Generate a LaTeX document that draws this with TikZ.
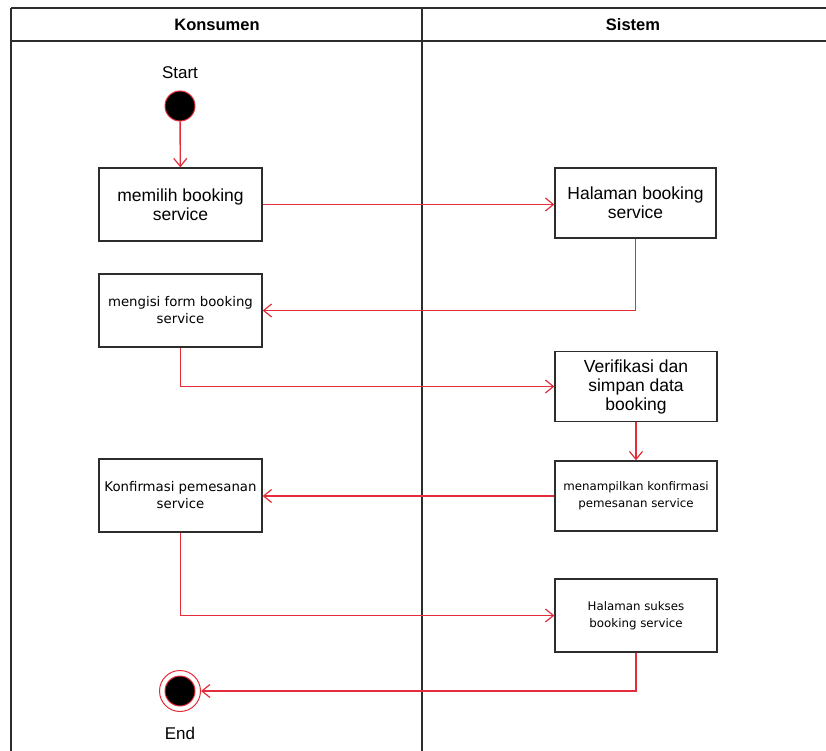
\documentclass[tikz,border=0pt]{standalone}
\usepackage{fontspec}
\setmainfont{Liberation Sans}
\newfontfamily\smallfont{DejaVu Sans}
\usetikzlibrary{arrows.meta}
\definecolor{flowred}{RGB}{228,45,58}
\definecolor{lanegray}{RGB}{45,45,45}
\begin{document}
\begin{tikzpicture}[x=1pt,y=-1pt,
  lane/.style={draw=lanegray,line width=1.8pt},
  act/.style={draw=lanegray,line width=1.3pt,fill=white,align=center,inner sep=0pt,
     minimum width=162pt,minimum height=72pt},
  bigtxt/.style={font=\fontsize{17.5}{19}\selectfont},
  midtxt/.style={font=\smallfont\fontsize{13.3}{17}\selectfont},
  smalltxt/.style={font=\smallfont\fontsize{11.8}{17}\selectfont},
  flow/.style={draw=flowred,line width=1.4pt,-{Straight Barb[length=8pt,width=13pt,line width=1.2pt]}},
  lbl/.style={font=\fontsize{17}{19}\selectfont,inner sep=0pt}]
\useasboundingbox (0,0) rectangle (826,751);
\fill[white] (0,0) rectangle (826,751);
% swimlanes
\coordinate (tl) at (11,8);
\coordinate (tr) at (826,8);
\coordinate (hl) at (11,41);
\coordinate (hr) at (826,41);
\coordinate (bl) at (11,751);
\coordinate (dt) at (422,8);
\coordinate (db) at (422,751);
\draw[lane] (tl) -- (tr);
\draw[lane] (hl) -- (hr);
\draw[lane] (tl) -- (bl);
\draw[lane] (dt) -- (db);
\node[font=\bfseries\fontsize{16.5}{18}\selectfont] (h1) at (217,25) {Konsumen};
\node[font=\bfseries\fontsize{16.5}{18}\selectfont] (h2) at (633,25) {Sistem};
% start / end
\node[lbl] (startlbl) at (180,73) {Start};
\node[circle,fill=black,draw=flowred,line width=1pt,minimum size=30pt,inner sep=0pt] (start) at (180,106) {};
\node[circle,draw=flowred,line width=1pt,minimum size=41pt,inner sep=0pt] (endo) at (180,691) {};
\node[circle,fill=black,draw=flowred,line width=1pt,minimum size=30pt,inner sep=0pt] (endi) at (180,691) {};
\node[lbl] (endlbl) at (180,733) {End};
% activities
\node[act,bigtxt,minimum width=163pt,minimum height=73pt] (a1) at (180.5,204.5) {memilih booking\\service};
\node[act,bigtxt,minimum width=161pt,minimum height=70pt] (b1) at (635.5,203) {Halaman booking\\service};
\node[act,midtxt,minimum width=163pt,minimum height=73pt] (a2) at (180.5,310.5) {mengisi form booking\\service};
\node[act,bigtxt,minimum width=162pt,minimum height=70pt] (b2) at (636,386.5) {Verifikasi dan\\simpan data\\booking};
\node[act,smalltxt,minimum width=162pt,minimum height=70pt] (b3) at (636,496) {menampilkan konfirmasi\\pemesanan service};
\node[act,midtxt,minimum width=163pt,minimum height=73pt] (a3) at (180.5,495.5) {Konfirmasi pemesanan\\service};
\node[act,smalltxt,minimum width=162pt,minimum height=73pt] (b4) at (636,615.5) {Halaman sukses\\booking service};
% flows
\draw[flow] (start) -- (a1);
\draw[flow] (a1.east) -- (a1.east -| b1.west);
\draw[flow] (b1.south) |- (a2.east);
\draw[flow] (a2.south) |- (b2.west);
\draw[flow] (b2.south) -- (b3.north);
\draw[flow] (b3.west) -- (b3.west -| a3.east);
\draw[flow] (a3.south) |- (b4.west);
\draw[flow] (b4.south) |- (endo.east);
\end{tikzpicture}
\end{document}
